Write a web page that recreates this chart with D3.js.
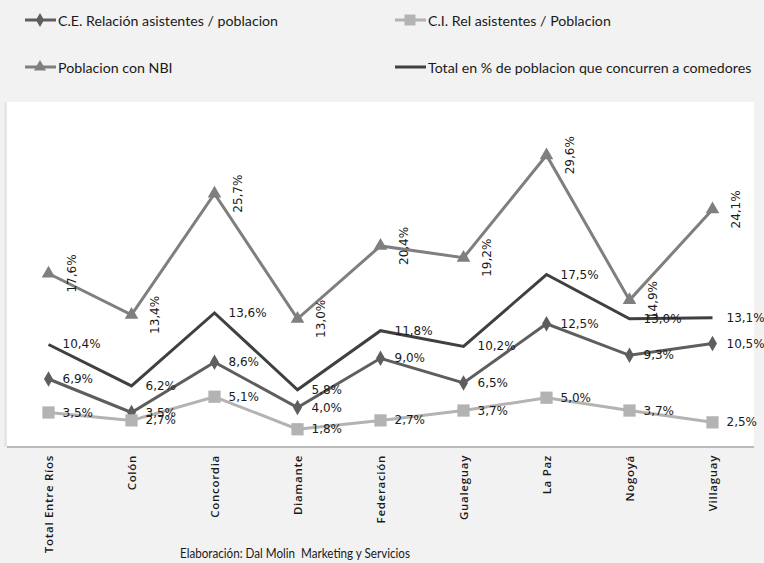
<!DOCTYPE html>
<html><head><meta charset="utf-8">
<script src="https://cdn.jsdelivr.net/npm/d3@7"></script>
<style>body{margin:0;background:#f2f2f2;}svg{display:block;}</style>
</head><body>
<script>
const categories = ["Total Entre Ríos","Colón","Concordia","Diamante","Federación","Gualeguay","La Paz","Nogoyá","Villaguay"];
const ceValues = [6.9,3.5,8.6,4.0,9.0,6.5,12.5,9.3,10.5];
const ciValues = [3.5,2.7,5.1,1.8,2.7,3.7,5.0,3.7,2.5];
const nbiValues = [17.6,13.4,25.7,13.0,20.4,19.2,29.6,14.9,24.1];
const totalValues = [10.4,6.2,13.6,5.8,11.8,10.2,17.5,13.0,13.1];
const seriesNames = ["C.E. Relación asistentes / poblacion","C.I. Rel asistentes / Poblacion","Poblacion con NBI","Total en % de poblacion que concurren a comedores"];
const footer = "Elaboración: Dal Molin  Marketing y Servicios";

const W=764,H=563;
const plot={x0:7,x1:754,y0:102,y1:447};
const svg=d3.select("body").append("svg").attr("width",W).attr("height",H);
svg.append("rect").attr("width",W).attr("height",H).attr("fill","#f2f2f2");
svg.append("rect").attr("x",plot.x0-3).attr("y",plot.y0).attr("width",3).attr("height",plot.y1-plot.y0).attr("fill","#e6e6e6");
svg.append("rect").attr("x",plot.x0).attr("y",plot.y0).attr("width",plot.x1-plot.x0).attr("height",plot.y1-plot.y0).attr("fill","#ffffff");

const x=d3.scalePoint().domain(categories).range([plot.x0,plot.x1]).padding(0.5);
const y=d3.scaleLinear().domain([0,35]).range([plot.y1,plot.y0]);

svg.append("line").attr("x1",plot.x0).attr("x2",plot.x1).attr("y1",plot.y1).attr("y2",plot.y1).attr("stroke","#a6a6a6").attr("stroke-width",1.5);

const fmt=v=>d3.format(".1f")(v).replace(".",",")+"%";
const series=[
 {name:seriesNames[0],vals:ceValues,color:"#5e5e5e",marker:"diamond",size:70},
 {name:seriesNames[1],vals:ciValues,color:"#b3b3b3",marker:"square",size:150},
 {name:seriesNames[2],vals:nbiValues,color:"#7f7f7f",marker:"triangle",size:80,rot:true},
 {name:seriesNames[3],vals:totalValues,color:"#404040",marker:null}
];
const symType={diamond:d3.symbolDiamond,square:d3.symbolSquare,triangle:d3.symbolTriangle};
const line=d3.line().x((d,i)=>x(categories[i])).y(d=>y(d));

const drawOrder=[2,3,0,1];
drawOrder.forEach(k=>{
 const s=series[k];
 const g=svg.append("g");
 g.append("path").attr("d",line(s.vals)).attr("fill","none").attr("stroke",s.color).attr("stroke-width",3).attr("stroke-linejoin","miter");
 if(s.marker){
  g.selectAll("path.m").data(s.vals).join("path").attr("class","m")
   .attr("d",d3.symbol().type(symType[s.marker]).size(s.size))
   .attr("transform",(d,i)=>`translate(${x(categories[i])},${y(d)})`)
   .attr("fill",s.color);
 }
});
series.forEach(s=>{
 const g=svg.append("g").attr("font-family","DejaVu Sans").attr("font-size",12).attr("fill","#1a1a1a");
 s.vals.forEach((v,i)=>{
  const px=x(categories[i]),py=y(v);
  if(s.rot){
   g.append("text").attr("transform",`translate(${px+23},${py}) rotate(-90)`)
    .attr("text-anchor","middle").attr("dominant-baseline","central").text(fmt(v));
  } else {
   g.append("text").attr("x",px+14).attr("y",py).attr("dominant-baseline","central").text(fmt(v));
  }
 });
});

svg.append("g").selectAll("text").data(categories).join("text")
 .attr("transform",d=>`translate(${x(d)},455) rotate(-90)`)
 .attr("text-anchor","end").attr("dominant-baseline","central")
 .attr("font-family","Open Sans").attr("font-weight",600).attr("font-size",11.5).attr("letter-spacing",0.7)
 .attr("fill","#1a1a1a").text(d=>d);

const legPos=[[25,20],[395,20],[25,67],[395,67]];
series.forEach((s,k)=>{
 const [lx,ly]=legPos[k];
 const g=svg.append("g");
 g.append("line").attr("x1",lx).attr("x2",lx+31).attr("y1",ly).attr("y2",ly).attr("stroke",s.color).attr("stroke-width",3);
 if(s.marker){
  g.append("path").attr("d",d3.symbol().type(symType[s.marker]).size(s.size*0.8)).attr("transform",`translate(${lx+15},${ly})`).attr("fill",s.color);
 }
 g.append("text").attr("x",lx+33).attr("y",ly).attr("dominant-baseline","central")
  .attr("font-family","Lato").attr("font-size",14.2).attr("fill","#1a1a1a").text(s.name);
});

svg.append("text").attr("x",180).attr("y",552).attr("dominant-baseline","central")
 .attr("font-family","Lato").attr("font-size",14).attr("fill","#1a1a1a")
 .attr("textLength",230).attr("lengthAdjust","spacingAndGlyphs")
 .style("white-space","pre").text(footer);
</script>
</body></html>
